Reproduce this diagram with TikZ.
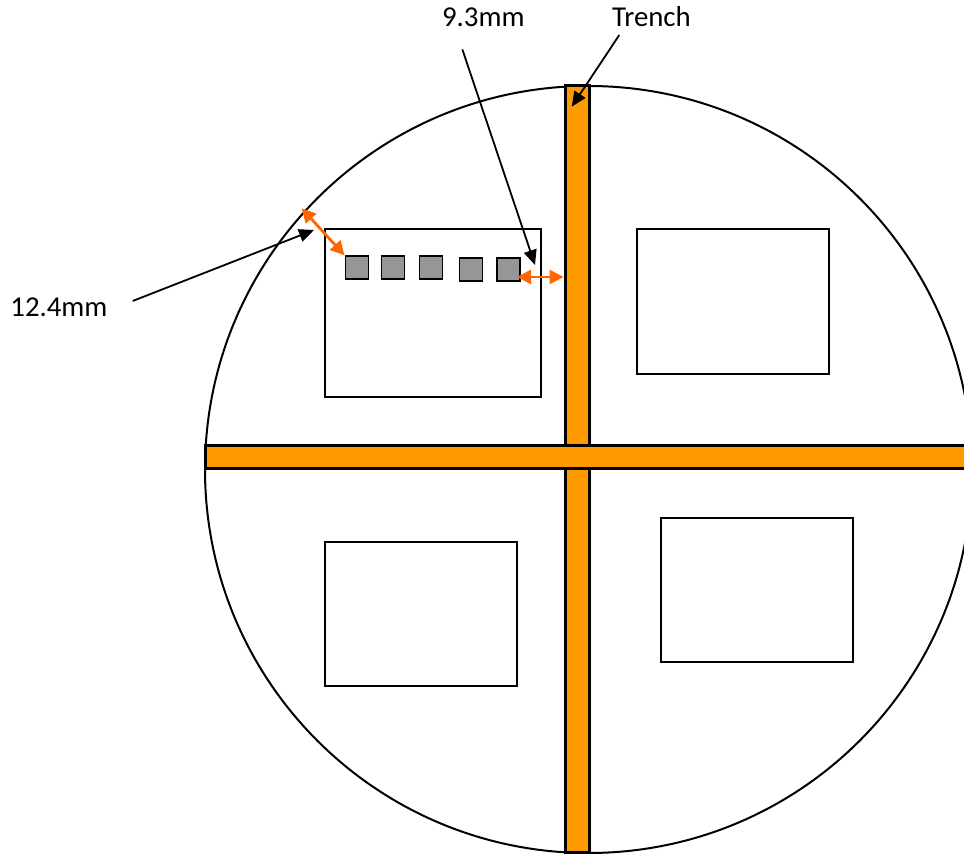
\documentclass[tikz,border=0pt]{standalone}
\usepackage{fontspec}
\setmainfont{Carlito}
\usetikzlibrary{arrows.meta}
\definecolor{trenchorange}{HTML}{FF9900}
\definecolor{gaporange}{HTML}{FF6600}
\definecolor{padgray}{HTML}{969696}
\tikzset{
  wafer/.style={draw, circle, line width=1pt, inner sep=0pt, minimum size=383.5pt},
  trench/.style={draw, fill=trenchorange, line width=1.5pt, inner sep=0pt},
  die/.style={draw, line width=1pt, inner sep=0pt},
  pad/.style={draw, fill=padgray, line width=0.8pt, inner sep=0pt, minimum size=11.5pt},
  lbl/.style={inner sep=0pt, anchor=base west, font=\fontsize{14.4}{17}\selectfont},
  pointer/.style={-{Triangle[length=7.5pt,width=6.5pt]}, line width=0.9pt},
  gap/.style={{Triangle[length=7pt,width=7pt]}-{Triangle[length=7pt,width=7pt]}, gaporange, line width=1.4pt}
}

\begin{document}
\begin{tikzpicture}[x=0.5pt, y=-0.5pt]
  \useasboundingbox (0,0) rectangle (964,854);
  \clip (0,0) rectangle (964,854);

  \node[wafer] (wafer) at (588.5,469.5) {};
  \node[trench, minimum width=12pt, minimum height=383.5pt] (vtrench) at (577,469.5) {};
  \node[trench, minimum width=383.5pt, minimum height=11.5pt] (htrench) at (588.5,457.5) {};

  \node[die, minimum width=108pt, minimum height=83.75pt] (die1) at (433,313.25) {};
  \node[die, minimum width=96pt, minimum height=72.25pt] (die2) at (733,301.75) {};
  \node[die, minimum width=96pt, minimum height=72pt] (die3) at (421,614) {};
  \node[die, minimum width=96pt, minimum height=72pt] (die4) at (757,590) {};

  \foreach \i/\x/\y in {1/356.8/267.6, 2/392.8/267.6, 3/430.8/267.6, 4/471/269.7, 5/508.7/269.7}
    \node[pad] (pad\i) at (\x,\y) {};

  \node[lbl] (dimtop) at (441.7,27) {9.3mm};
  \node[lbl] (trenchlbl) at (611.7,27) {Trench};
  \node[lbl] (dimleft) at (10,316.7) {12.4mm};

  \coordinate (edgegap) at (301.7,208.3);
  \coordinate (padgap) at (517,277);
  \coordinate (toptail) at (462.3,49.3);
  \coordinate (toptip) at (535,265);
  \coordinate (trenchtail) at (619.3,35);
  \coordinate (trenchtip) at (571.7,106.7);
  \coordinate (lefttail) at (132.7,301);
  \coordinate (lefttip) at (314,230);

  \draw[gap] (edgegap) -- (pad1.north west);
  \draw[gap] (padgap) -- (padgap -| vtrench.west);
  \draw[pointer] (toptail) -- (toptip);
  \draw[pointer] (trenchtail) -- (trenchtip);
  \draw[pointer] (lefttail) -- (lefttip);
\end{tikzpicture}
\end{document}
